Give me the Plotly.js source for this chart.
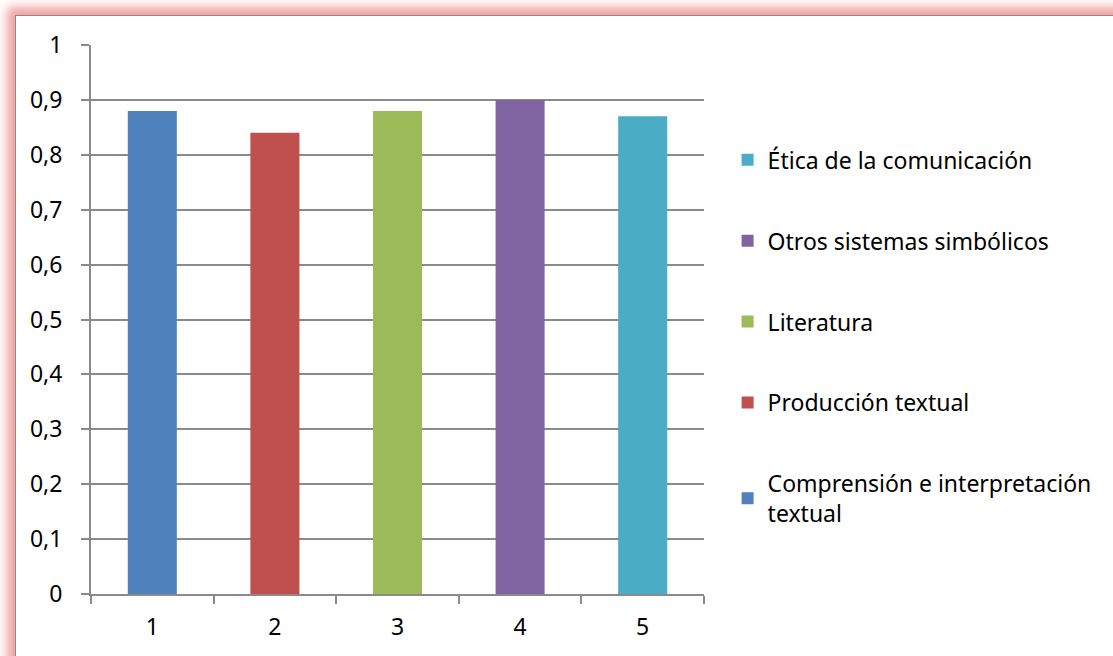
<!DOCTYPE html>
<html>
<head>
<meta charset="utf-8">
<script src="https://cdn.plot.ly/plotly-3.0.1.min.js"></script>
<style>
html,body{margin:0;padding:0;background:#fff;width:1113px;height:656px;overflow:hidden;}
#frame{position:absolute;left:15px;top:15px;width:1200px;height:760px;background:#fff;
  border-left:1.5px solid #8a8a8a;border-top:1.5px solid #8a8a8a;
  box-shadow:0 0 10px 8px rgba(242,150,150,0.9);}
#chart{position:absolute;left:16px;top:16px;width:1097px;height:640px;}
</style>
</head>
<body>
<div id="frame"></div>
<div id="chart"></div>
<script>
const categories = ["1", "2", "3", "4", "5"];
const seriesNames = ["Comprensión e interpretación<br>textual", "Producción textual", "Literatura", "Otros sistemas simbólicos", "Ética de la comunicación"];
const seriesValues = [0.88, 0.84, 0.88, 0.90, 0.87];
const seriesColors = ["#4F81BD", "#C0504D", "#9BBB59", "#8064A2", "#4BACC6"];
const yTicks = [0, 0.1, 0.2, 0.3, 0.4, 0.5, 0.6, 0.7, 0.8, 0.9, 1];

const traces = seriesNames.map((name, i) => ({
  type: "bar",
  name: name,
  x: [categories[i]],
  y: [seriesValues[i]],
  width: 0.4,
  marker: {color: seriesColors[i]},
  legendgroup: "g" + i,
  legendrank: 1000 - i,
  hoverinfo: "y"
}));

const fam = "'Noto Sans', 'Open Sans', sans-serif";

const layout = {
  width: 1097, height: 640,
  margin: {l: 75, r: 409, t: 29, b: 62},
  paper_bgcolor: "rgba(0,0,0,0)",
  plot_bgcolor: "#fff",
  separators: ", ",
  barmode: "overlay",
  font: {family: fam, size: 23, color: "#000"},
  showlegend: true,
  legend: {
    x: 1.0385, xanchor: "left", y: 0.83, yanchor: "top",
    traceorder: "grouped", tracegroupgap: 48,
    font: {family: fam, size: 23, color: "#000"},
    bgcolor: "rgba(0,0,0,0)"
  },
  xaxis: {
    type: "category",
    categoryorder: "array", categoryarray: categories,
    tickson: "boundaries",
    ticks: "outside", ticklen: 8, tickwidth: 2, tickcolor: "#8a8a8a",
    showgrid: false,
    showline: true, linecolor: "#8a8a8a", linewidth: 2,
    tickfont: {family: fam, size: 23, color: "#000"},
    ticklabelstandoff: 11,
    fixedrange: true
  },
  yaxis: {
    range: [0, 1],
    tickvals: yTicks,
    tickformat: ".1~f",
    ticks: "outside", ticklen: 8, tickwidth: 2, tickcolor: "#8a8a8a",
    showgrid: true, gridcolor: "#8a8a8a", gridwidth: 2,
    showline: true, linecolor: "#8a8a8a", linewidth: 2,
    zeroline: false,
    tickfont: {family: fam, size: 23, color: "#000"},
    ticklabelstandoff: 14,
    fixedrange: true
  }
};

Plotly.newPlot("chart", traces, layout, {displayModeBar: false, staticPlot: true});
</script>
</body>
</html>
